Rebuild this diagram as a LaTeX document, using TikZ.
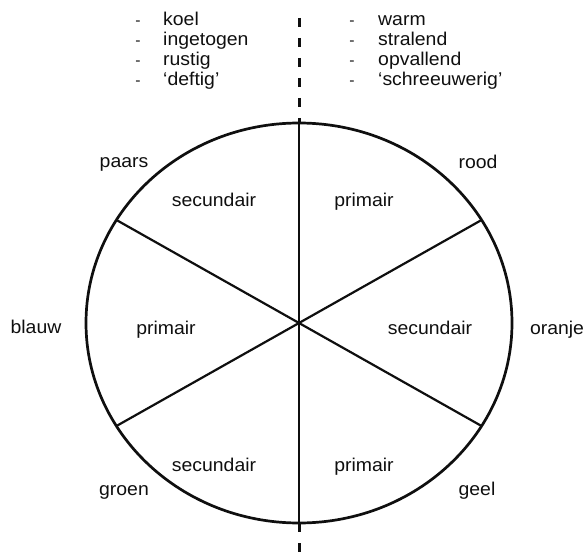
\documentclass[tikz,border=0pt]{standalone}
\usepackage{fontspec}
\setmainfont{Liberation Sans}[FakeStretch=1.05]
\usepackage{xcolor}
\definecolor{inkblack}{RGB}{15,15,15}

\tikzset{
  rim/.style={draw=inkblack, line width=2.7bp},
  spoke/.style={draw=inkblack, line width=2.2bp},
  axisline/.style={draw=inkblack, line width=3bp, dash pattern=on 9bp off 11bp},
  lbl/.style={inner sep=0pt, anchor=base, text=inkblack},
  item/.style={inner sep=0pt, anchor=base west, text=inkblack},
  hyph/.style={inner sep=0pt, anchor=base, text=inkblack, font=\fontsize{15bp}{15bp}\selectfont}
}

\begin{document}
\begin{tikzpicture}[x=1bp, y=-1bp, font=\fontsize{18.5bp}{20bp}\selectfont]

% Canvas
\useasboundingbox (0,0) rectangle (585,553);

% Wheel
\coordinate (c) at (299,323);
\draw[rim] (c) ellipse [x radius=213bp, y radius=200bp];

% Spokes
\path (c) ++(-31:213 and 200) coordinate (ur);
\path (c) ++(-149:213 and 200) coordinate (ul);
\path (c) ++(31:213 and 200) coordinate (lr);
\path (c) ++(149:213 and 200) coordinate (ll);
\path (c) ++(0,-200) coordinate (top);
\path (c) ++(0,200) coordinate (bot);
\draw[spoke] (ul) -- (lr);
\draw[spoke] (ur) -- (ll);
\draw[spoke] (top) -- (bot);

% Dashed divider
\coordinate (dtop) at (299,18);
\coordinate (dbot) at (299,553);
\draw[axisline] (dtop) -- (top);
\draw[axisline] (bot) -- (dbot);

% Cool side
\foreach \yb/\word [count=\n] in {26/koel, 46/ingetogen, 66/rustig, 86/{‘deftig’}} {
    \node[hyph] (ch\n) at (138,\yb) {-};
    \node[item] (cw\n) at (163,\yb) {\word};
}

% Warm side
\foreach \yb/\word [count=\n] in {26/warm, 46/stralend, 66/opvallend, 86/{‘schreeuwerig’}} {
    \node[hyph] (wh\n) at (352,\yb) {-};
    \node[item] (ww\n) at (378,\yb) {\word};
}

% Colour names
\foreach \name/\x/\y in {paars/124/168, rood/478/169, blauw/36/333,
                         oranje/557/334, groen/124/495, geel/477/495} {
    \node[lbl] (\name) at (\x,\y) {\name};
}

% Sector labels
\foreach \x/\y/\kind [count=\n] in {214/207/secundair, 364/207/primair,
                                    166/334/primair, 430/334/secundair,
                                    214/471/secundair, 364/471/primair} {
    \node[lbl] (s\n) at (\x,\y) {\kind};
}

\end{tikzpicture}
\end{document}
